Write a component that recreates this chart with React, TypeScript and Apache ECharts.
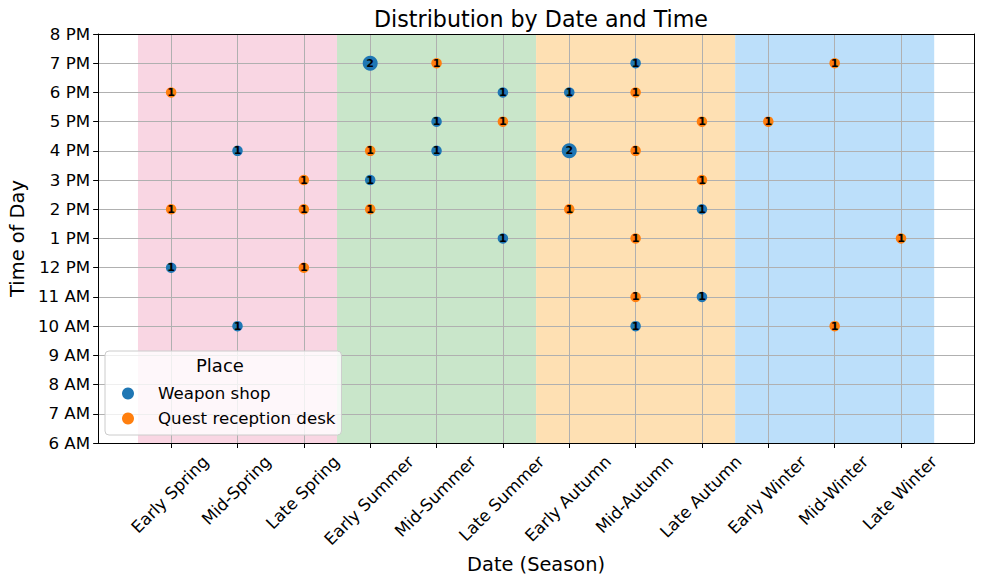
import React, { useEffect, useRef } from "react";
import * as echarts from "echarts";

const categories = [
  "Early Spring", "Mid-Spring", "Late Spring",
  "Early Summer", "Mid-Summer", "Late Summer",
  "Early Autumn", "Mid-Autumn", "Late Autumn",
  "Early Winter", "Mid-Winter", "Late Winter",
];

const timeLabels = [
  "6 AM", "7 AM", "8 AM", "9 AM", "10 AM", "11 AM", "12 PM",
  "1 PM", "2 PM", "3 PM", "4 PM", "5 PM", "6 PM", "7 PM", "8 PM",
];
const firstHour = 6;
const lastHour = 20;

const seasons = ["Spring", "Summer", "Autumn", "Winter"];
const seasonColors = ["#f9d6e3", "#c9e6ca", "#fee0b3", "#bcdffa"];

// [category, hour (24h), count]
const weaponShop: [string, number, number][] = [
  ["Early Spring", 12, 1],
  ["Mid-Spring", 16, 1],
  ["Mid-Spring", 10, 1],
  ["Early Summer", 19, 2],
  ["Early Summer", 15, 1],
  ["Mid-Summer", 17, 1],
  ["Mid-Summer", 16, 1],
  ["Late Summer", 18, 1],
  ["Late Summer", 13, 1],
  ["Early Autumn", 18, 1],
  ["Early Autumn", 16, 2],
  ["Mid-Autumn", 19, 1],
  ["Mid-Autumn", 10, 1],
  ["Late Autumn", 14, 1],
  ["Late Autumn", 11, 1],
];

const questDesk: [string, number, number][] = [
  ["Early Spring", 18, 1],
  ["Early Spring", 14, 1],
  ["Late Spring", 15, 1],
  ["Late Spring", 14, 1],
  ["Late Spring", 12, 1],
  ["Early Summer", 16, 1],
  ["Early Summer", 14, 1],
  ["Mid-Summer", 19, 1],
  ["Late Summer", 17, 1],
  ["Early Autumn", 14, 1],
  ["Mid-Autumn", 18, 1],
  ["Mid-Autumn", 16, 1],
  ["Mid-Autumn", 13, 1],
  ["Mid-Autumn", 11, 1],
  ["Late Autumn", 17, 1],
  ["Late Autumn", 15, 1],
  ["Early Winter", 17, 1],
  ["Mid-Winter", 19, 1],
  ["Mid-Winter", 10, 1],
  ["Late Winter", 13, 1],
];

const FONT = "DejaVu Sans";
const TICK_FS = 16.67;

function toPoints(rows: [string, number, number][]) {
  return rows.map(([c, h, n]) => [categories.indexOf(c), h, n]);
}

function measure(text: string, fs: number) {
  const ctx = document.createElement("canvas").getContext("2d");
  if (!ctx) return text.length * fs * 0.6;
  ctx.font = `${fs}px "${FONT}"`;
  return ctx.measureText(text).width;
}

export default function App() {
  const ref = useRef<HTMLDivElement>(null);

  useEffect(() => {
    if (!ref.current) return;
    const chart = echarts.init(ref.current, undefined, { renderer: "svg" });
    const xMin = -1.1;
    const xMax = categories.length + 0.1;
    const catIdx = categories.map((_, i) => i);

    const bandData = seasons.map((s, i) => [
      {
        xAxis: i * 3 - 0.5,
        itemStyle: { color: seasonColors[i], opacity: 1 },
        name: s,
      },
      { xAxis: i * 3 + 2.5 },
    ]);

    const labelWidths = categories.map((c) => measure(c, TICK_FS));

    const scatterCommon = {
      type: "scatter",
      z: 5,
      symbolSize: (v: number[]) => (v[2] >= 2 ? 15 : 10.5),
      label: {
        show: true,
        position: "inside",
        formatter: (p: any) => String(p.value[2]),
        color: "#000",
        fontWeight: "bold",
        fontSize: 11,
        fontFamily: FONT,
      },
      emphasis: { disabled: true },
    };

    chart.setOption({
      animation: false,
      backgroundColor: "#ffffff",
      title: {
        text: "Distribution by Date and Time",
        left: 536,
        textAlign: "center",
        top: 3,
        textStyle: {
          fontFamily: FONT,
          fontSize: 22.2,
          fontWeight: "normal",
          color: "#000",
        },
      },
      grid: { left: 97, right: 10, top: 34, bottom: 141 },
      xAxis: [
        {
          type: "value",
          min: xMin,
          max: xMax,
          z: 3,
          name: "Date (Season)",
          nameLocation: "middle",
          nameGap: 112,
          nameTextStyle: { fontFamily: FONT, fontSize: 19.4, color: "#000" },
          axisLine: { show: true, onZero: false, lineStyle: { color: "#000", width: 1 } },
          axisTick: {
            show: true,
            customValues: catIdx,
            length: 5,
            lineStyle: { color: "#000", width: 1 },
          },
          axisLabel: { show: false, customValues: catIdx },
          splitLine: { show: true, lineStyle: { color: "#b0b0b0", width: 1 } },
        },
        {
          type: "value",
          min: xMin,
          max: xMax,
          position: "top",
          z: 10,
          axisLine: { show: true, onZero: false, lineStyle: { color: "#000", width: 1 } },
          axisTick: { show: false },
          axisLabel: { show: false },
          splitLine: { show: false },
        },
      ],
      yAxis: [
        {
          type: "value",
          min: firstHour,
          max: lastHour,
          interval: 1,
          z: 3,
          name: "Time of Day",
          nameLocation: "middle",
          nameGap: 70,
          nameRotate: 90,
          nameTextStyle: { fontFamily: FONT, fontSize: 19.4, color: "#000" },
          axisLine: { show: true, onZero: false, lineStyle: { color: "#000", width: 1 } },
          axisTick: { show: true, length: 5, lineStyle: { color: "#000", width: 1 } },
          axisLabel: {
            fontFamily: FONT,
            fontSize: TICK_FS,
            color: "#000",
            margin: 8,
            formatter: (v: number) => timeLabels[Math.round(v) - firstHour] ?? "",
          },
          splitLine: { show: true, lineStyle: { color: "#b0b0b0", width: 1 } },
        },
        {
          type: "value",
          min: firstHour,
          max: lastHour,
          interval: 1,
          position: "right",
          z: 10,
          axisLine: { show: true, onZero: false, lineStyle: { color: "#000", width: 1 } },
          axisTick: { show: false },
          axisLabel: { show: false },
          splitLine: { show: false },
        },
      ],
      legend: {
        data: ["Weapon shop", "Quest reception desk"],
        orient: "vertical",
        left: 105,
        top: 351,
        z: 10,
        icon: "circle",
        itemWidth: 12,
        itemHeight: 12,
        itemGap: 8,
        padding: [34, 6, 8, 17],
        backgroundColor: "rgba(255,255,255,0.8)",
        borderColor: "#cccccc",
        borderWidth: 1,
        borderRadius: 4,
        selectedMode: false,
        itemStyle: { opacity: 1 },
        textStyle: {
          fontFamily: FONT,
          fontSize: TICK_FS,
          color: "#000",
          padding: [0, 0, 0, 19],
        },
      },
      graphic: [
        {
          type: "text",
          left: 196,
          top: 356,
          z: 20,
          style: {
            text: "Place",
            fontFamily: FONT,
            fontSize: 18,
            fill: "#000",
          },
        },
      ],
      series: [
        {
          type: "scatter",
          name: "bands",
          data: [],
          z: 1,
          silent: true,
          markArea: {
            silent: true,
            label: { show: false },
            emphasis: { disabled: true },
            data: bandData,
          },
        },
        {
          type: "custom",
          name: "xlabels",
          z: 3,
          silent: true,
          data: catIdx.map((i) => [i]),
          renderItem: (params: any, api: any) => {
            const i = api.value(0);
            const p = api.coord([i, firstHour]);
            const L = labelWidths[i];
            const h = TICK_FS * 1.17;
            const H = (L + h) * Math.SQRT1_2;
            return {
              type: "text",
              x: p[0] - 1,
              y: p[1] + 9 + H / 2,
              rotation: Math.PI / 4,
              style: {
                text: categories[i],
                fontFamily: FONT,
                fontSize: TICK_FS,
                fill: "#000",
                align: "center",
                verticalAlign: "middle",
              },
            };
          },
        },
        {
          ...scatterCommon,
          name: "Weapon shop",
          itemStyle: { color: "#1f77b4", opacity: 1 },
          data: toPoints(weaponShop),
        },
        {
          ...scatterCommon,
          name: "Quest reception desk",
          itemStyle: { color: "#ff7f0e", opacity: 1 },
          data: toPoints(questDesk),
        },
      ],
    });

    return () => chart.dispose();
  }, []);

  return (
    <div
      ref={ref}
      style={{ position: "fixed", left: 0, top: 0, width: 984, height: 584 }}
    />
  );
}
